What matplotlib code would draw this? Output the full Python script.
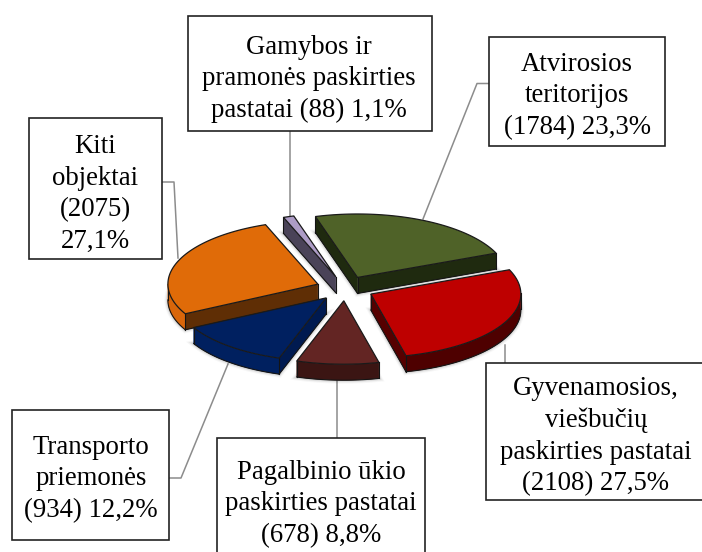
#!/usr/bin/env python3

import numpy as np
import matplotlib
matplotlib.use("Agg")
import matplotlib.pyplot as plt
import matplotlib.patches as mpatches

# clockwise from the green slice
labels = ["Atvirosios\nteritorijos\n(1784) 23,3%",
          "Gyvenamosios,\nviešbučių\npaskirties pastatai\n(2108) 27,5%",
          "Pagalbinio ūkio\npaskirties pastatai\n(678) 8,8%",
          "Transporto\npriemonės\n(934) 12,2%",
          "Kiti\nobjektai\n(2075)\n27,1%",
          "Gamybos ir\npramonės paskirties\npastatai (88) 1,1%"]
counts = [1784, 2108, 678, 934, 2075, 88]
top_colors = ["#4F6228", "#BE0000", "#632523", "#002060", "#E06B08", "#AD9CC6"]
side_colors = ["#1F2A0F", "#560000", "#3B1513", "#001A50", "#5F2E05", "#4A4358"]
arc_colors = ["#1F2A0F", "#4E0000", "#3B1513", "#00205F", "#D9660A", "#4A4358"]

# x0, y0, x1, y1 of each label box, then text centre
boxes = [(488.5, 37, 665, 146), (485.5, 363, 703, 500), (216.5, 438, 425, 560),
         (12, 409.5, 169, 540), (29, 118, 162, 259), (188, 16, 432, 130.5)]
text_pos = [(577, 96), (596, 436), (321, 504), (91, 479), (95, 194), (309, 79)]
leaders = [[(488.5, 83.5), (477, 83.5), (423, 219)],
           [(505, 345), (505, 363)],
           [(337, 381), (337, 438)],
           [(169, 478), (181, 478), (228, 364)],
           [(162, 182), (174, 182), (178, 258)],
           [(289.5, 130), (289.5, 216)]]

# pie geometry in pixels
cx, cy = 345, 288.5
radius = 150
squash = 0.423
explode = 29
depth = 16
start = 106.3

# back to front, orange side sits over the blue slice
draw_order = [5, 0, 3, 4, 1, 2]


def wedge_poly(a0, a1):
    mid = np.radians((a0 + a1) / 2)
    ax_ = cx + explode * np.cos(mid)
    ay_ = cy - explode * squash * np.sin(mid)
    t = np.radians(np.linspace(a0, a1, 60))
    xs = ax_ + radius * np.cos(t)
    ys = ay_ - radius * squash * np.sin(t)
    return np.vstack([[ax_, ay_], np.column_stack([xs, ys])])


def draw_run(ax, pts, col):
    # one polygon per run of faces, single quads leave stripes
    pts = np.array(pts)
    low = pts + [0, depth]
    ax.add_patch(mpatches.Polygon(np.vstack([pts, low[::-1]]), closed=True,
                                  fc=col, ec=col, lw=0.3, zorder=4))
    ax.plot(low[:, 0], low[:, 1], color="#141414", lw=0.8, zorder=5)


def draw_wedge(ax, poly, top, side, arc):
    n = len(poly)
    centre = poly.mean(axis=0)

    # soft shadow round the block
    low = poly + [0, depth]
    for lw, alpha in ((5, .03), (3.5, .05), (2.2, .07)):
        ax.add_patch(mpatches.Polygon(low, closed=True, fc="none", ec="black",
                                      lw=lw, alpha=alpha, zorder=3))

    visible = []
    for i in range(n):
        p, q = poly[i], poly[(i + 1) % n]
        nrm = np.array([q[1] - p[1], p[0] - q[0]])
        if nrm.dot((p + q) / 2 - centre) < 0:
            nrm = -nrm
        visible.append(nrm[1] > 0)

    # the two straight cuts
    if visible[0]:
        draw_run(ax, [poly[0], poly[1]], side)
    if visible[n - 1]:
        draw_run(ax, [poly[n - 1], poly[0]], side)

    # the curved rim
    run = []
    for i in range(1, n - 1):
        if visible[i]:
            if not run:
                run.append(poly[i])
            run.append(poly[i + 1])
        elif run:
            draw_run(ax, run, arc)
            run = []
    if run:
        draw_run(ax, run, arc)

    for i in range(n):
        before, after = visible[i - 1], visible[i]
        corner = i in (0, 1, n - 1)
        if before != after or (corner and (before or after)):
            ax.plot([poly[i][0]] * 2, [poly[i][1], poly[i][1] + depth],
                    color="#141414", lw=0.8, zorder=5)

    ax.add_patch(mpatches.Polygon(poly, closed=True, fc=top, ec="#1a1a1a", lw=0.9,
                                  joinstyle="miter", zorder=6))


fig = plt.figure(figsize=(7.02, 5.52), dpi=100)
ax = fig.add_axes([0, 0, 1, 1])
ax.set_xlim(0, 702)
ax.set_ylim(552, 0)
ax.axis("off")

# leader lines and label boxes
for pts in leaders:
    xs, ys = zip(*pts)
    ax.plot(xs, ys, color="#8c8c8c", lw=1.1, zorder=1)

for (x0, y0, x1, y1), (tx, ty), label in zip(boxes, text_pos, labels):
    ax.add_patch(mpatches.Rectangle((x0, y0), x1 - x0, y1 - y0, fc="white", ec="#222222",
                                    lw=1.2, zorder=2))
    ax.text(tx, ty, label, ha="center", va="center", multialignment="center",
            family="Liberation Serif", fontsize=19.3, linespacing=1.345,
            color="black", zorder=7)

# slices, counts decide the angles
total = sum(counts)
angles = [start]
for c in counts:
    angles.append(angles[-1] - 360.0 * c / total)

for i in draw_order:
    poly = wedge_poly(angles[i], angles[i + 1])
    draw_wedge(ax, poly, top_colors[i], side_colors[i], arc_colors[i])

fig.savefig("out.png", dpi=100)
